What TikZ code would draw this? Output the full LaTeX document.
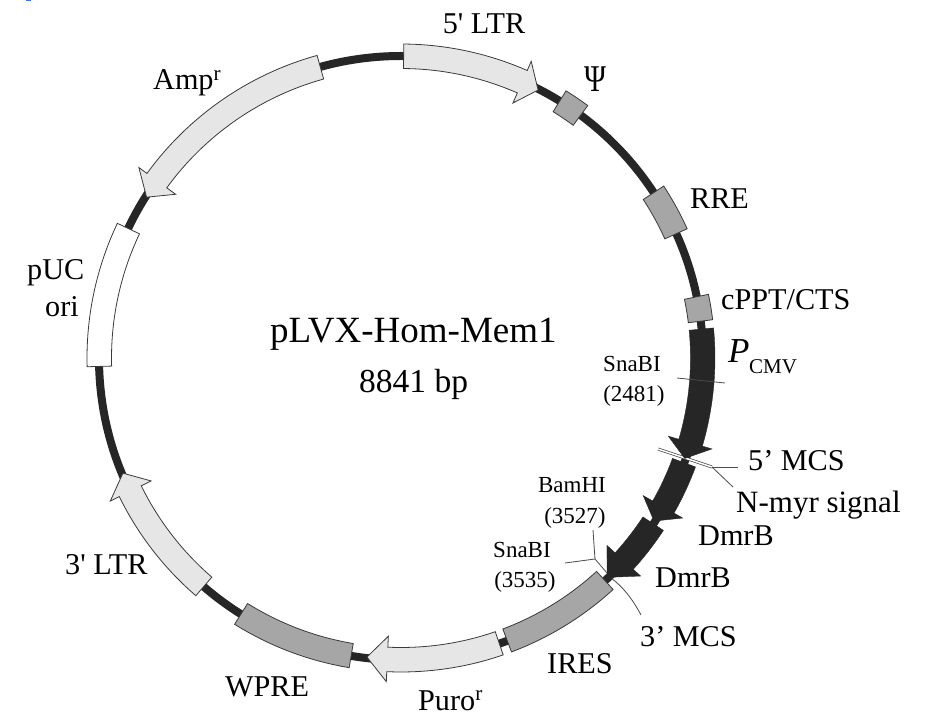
\documentclass[tikz,border=0pt]{standalone}
\usepackage{fontspec}
\newfontfamily\labfont{Liberation Serif}
\newcommand{\fz}[1]{\fontsize{#1}{#1}\selectfont\labfont}
\definecolor{ringblack}{HTML}{262626}
\definecolor{lightfeat}{HTML}{E6E6E6}
\definecolor{midfeat}{HTML}{A6A6A6}
\definecolor{edgecol}{HTML}{3A3A3A}
\definecolor{leadcol}{HTML}{4A4A4A}
\definecolor{cornerblue}{HTML}{3B6FFF}
\newcommand{\BoxSeg}[3]{\draw[#1] (#2:314) arc[start angle=#2,end angle=#3,radius=314] -- (#3:289.5) arc[start angle=#3,end angle=#2,radius=289.5] -- cycle;}
\newcommand{\ArrowSeg}[4]{\draw[#1] (#2:314) arc[start angle=#2,end angle=#3,radius=314] -- (#3:324) -- (#4:301) -- (#3:278.5) -- (#3:289.5) arc[start angle=#3,end angle=#2,radius=289.5] -- cycle;}
\tikzset{
  lightbox/.style={fill=lightfeat,draw=edgecol,line width=0.8pt,line join=miter},
  midbox/.style={fill=midfeat,draw=edgecol,line width=0.8pt},
  whitebox/.style={fill=white,draw=edgecol,line width=0.8pt},
  blackbox/.style={fill=ringblack,draw=ringblack,line width=0.4pt},
  lbl/.style={inner sep=0pt,font=\fz{30.2}},
  smalllbl/.style={inner sep=0pt,font=\fz{23}},
  leader/.style={draw=leadcol,line width=0.8pt},
  sitecut/.style={draw=leadcol,line width=0.7pt,double=white,double distance=1.5pt}
}
\begin{document}
\begin{tikzpicture}[x=1pt,y=1pt]
\useasboundingbox (-401,-370) rectangle (529,358);
% plasmid backbone
\draw[ringblack,line width=8pt] (0,0) circle[radius=302];
% cut sites drawn beneath the features
\begin{scope}[shift={(-401,358)},y=-1pt]
  \fill[cornerblue] (26,0) rectangle (31,1.2);
  \coordinate (mcsA) at (658,449);
  \coordinate (mcsB) at (712,467);
  \coordinate (mcsL) at (738,467);
  \coordinate (myrL) at (733,487);
  \coordinate (snaA) at (677,378);
  \coordinate (snaB) at (725,383);
  \draw[sitecut] (mcsA) -- (mcsB);
  \draw[leader] (mcsB) -- (mcsL);
  \draw[leader] (mcsB) -- (myrL);
\end{scope}
% features
\ArrowSeg{lightbox}{89.5}{66.3}{62.9}
\BoxSeg{midbox}{58.3}{53.5}
\BoxSeg{midbox}{33.2}{24.3}
\BoxSeg{midbox}{11.7}{7}
\ArrowSeg{blackbox}{5.5}{-16.3}{-19.5}
\ArrowSeg{blackbox}{-20.3}{-29.6}{-32.8}
\ArrowSeg{blackbox}{-33.3}{-42.3}{-46.8}
\BoxSeg{midbox}{-47.5}{-69.4}
\ArrowSeg{lightbox}{-71}{-92.6}{-96.5}
\BoxSeg{midbox}{-99.5}{-122}
\ArrowSeg{lightbox}{-130.8}{-153.8}{-157.5}
\BoxSeg{whitebox}{181.6}{154.6}
\ArrowSeg{lightbox}{105.5}{144}{147.7}
\begin{scope}[shift={(-401,358)},y=-1pt]
  % restriction-site leaders
  \draw[leader] (snaA) -- (snaB);
  \coordinate (bamTop) at (593,530);
  \coordinate (snaLeft) at (565,563);
  \coordinate (joinPt) at (595,559);
  \coordinate (joinEnd) at (607,573);
  \coordinate (mcsThreeA) at (611,578);
  \coordinate (mcsThreeB) at (641,615);
  \draw[leader] (bamTop) -- (joinPt);
  \draw[leader] (snaLeft) -- (joinPt);
  \draw[leader] (joinPt) -- (joinEnd);
  \draw[leader] (mcsThreeA) .. controls (622,586) and (632,598) .. (mcsThreeB);
  % labels
  \node[lbl,anchor=base] (ltrfive) at (484,34) {5' LTR};
  \node[inner sep=0pt,font=\fz{27},anchor=base] (psi) at (595,92) {\scalebox{1.1}[1.4]{Ψ}};
  \node[lbl,anchor=base west] (rre) at (690,209) {RRE};
  \node[lbl,anchor=base west] (cppt) at (721,310) {cPPT/CTS};
  \node[inner sep=0pt,font=\fz{35}\itshape,anchor=base west] (pcmv) at (728,363) {P};
  \node[inner sep=0pt,font=\fz{21},anchor=base west] (cmv) at (749,374) {CMV};
  \node[smalllbl,anchor=base] (snaone) at (632,372) {SnaBI};
  \node[smalllbl,anchor=base] (snaonepos) at (634,402) {(2481)};
  \node[lbl,anchor=base west] (mcsfive) at (748,471) {5’ MCS};
  \node[inner sep=0pt,font=\fz{31},anchor=base west] (myr) at (736,512) {N-myr signal};
  \node[lbl,anchor=base west] (dmrone) at (698,545) {DmrB};
  \node[lbl,anchor=base west] (dmrtwo) at (655,587) {DmrB};
  \node[smalllbl,anchor=base] (bam) at (572,493) {BamHI};
  \node[smalllbl,anchor=base] (bampos) at (575,523) {(3527)};
  \node[smalllbl,anchor=base] (snatwo) at (522,557) {SnaBI};
  \node[smalllbl,anchor=base] (snatwopos) at (525,587) {(3535)};
  \node[lbl,anchor=base west] (mcsthree) at (640,646) {3’ MCS};
  \node[lbl,anchor=base west] (ires) at (547,673) {IRES};
  \node[lbl,anchor=base west] (puro) at (418,710) {Puro\textsuperscript{r}};
  \node[lbl,anchor=base west] (wpre) at (225,696) {WPRE};
  \node[lbl,anchor=base west] (ltrthree) at (65,574) {3' LTR};
  \node[lbl,anchor=base west] (puc) at (27,280) {pUC};
  \node[lbl,anchor=base west] (ori) at (45,317) {ori};
  \node[lbl,anchor=base west] (amp) at (153,90) {Amp\textsuperscript{r}};
  \node[inner sep=0pt,font=\fz{37},anchor=base west] (name) at (270,343) {pLVX-Hom-Mem1};
  \node[inner sep=0pt,font=\fz{33.5},anchor=base west] (size) at (359,393) {8841 bp};
\end{scope}
\end{tikzpicture}
\end{document}
